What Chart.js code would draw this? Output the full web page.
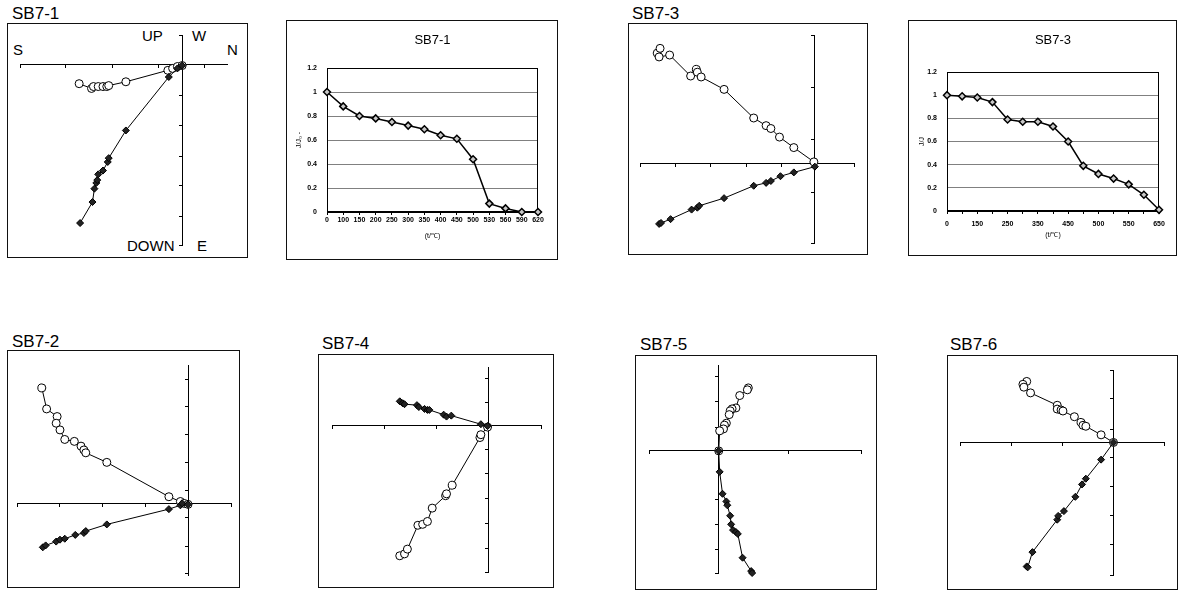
<!DOCTYPE html>
<html>
<head>
<meta charset="utf-8">
<script src="https://cdn.jsdelivr.net/npm/chart.js@4.4.0/dist/chart.umd.min.js"></script>
<style>
  body { margin: 0; background: #fff; width: 1179px; height: 592px; position: relative; overflow: hidden;
         font-family: 'Liberation Sans', Arial, sans-serif; color: #000; }
  .box { position: absolute; border: 1px solid #111; box-sizing: border-box; }
  .lbl { position: absolute; font-size: 15px; line-height: 1; white-space: nowrap; }
  .name { position: absolute; font-family: 'Liberation Sans Narrow', 'Liberation Sans', sans-serif;
          font-size: 17px; line-height: 1; white-space: nowrap; }
  canvas { position: absolute; }
</style>
</head>
<body>

<!-- frames -->
<div class="box" style="left:7px;top:23px;width:241px;height:235px"></div>
<div class="box" style="left:286px;top:20px;width:272px;height:240px"></div>
<div class="box" style="left:628px;top:23px;width:240px;height:232px"></div>
<div class="box" style="left:908px;top:20px;width:269px;height:236px"></div>
<div class="box" style="left:7px;top:350px;width:233px;height:238px"></div>
<div class="box" style="left:318px;top:354px;width:236px;height:234px"></div>
<div class="box" style="left:635px;top:355px;width:242px;height:235px"></div>
<div class="box" style="left:947px;top:355px;width:231px;height:235px"></div>

<!-- sample names -->
<div class="name" style="left:12px;top:5px">SB7-1</div>
<div class="name" style="left:632px;top:5px">SB7-3</div>
<div class="name" style="left:12px;top:333px">SB7-2</div>
<div class="name" style="left:322px;top:335px">SB7-4</div>
<div class="name" style="left:640px;top:336px">SB7-5</div>
<div class="name" style="left:950px;top:336px">SB7-6</div>

<!-- direction labels of SB7-1 -->
<div class="lbl" style="left:142px;top:28px">UP</div>
<div class="lbl" style="left:192px;top:28px">W</div>
<div class="lbl" style="left:13px;top:42px">S</div>
<div class="lbl" style="left:227px;top:42px">N</div>
<div class="lbl" style="left:127px;top:238px">DOWN</div>
<div class="lbl" style="left:197px;top:238px">E</div>

<canvas id="z1" width="217" height="220" style="left:15px;top:30px"></canvas>
<canvas id="d1" width="272" height="240" style="left:286px;top:20px"></canvas>
<canvas id="z3" width="224" height="218" style="left:635px;top:30px"></canvas>
<canvas id="d3" width="269" height="236" style="left:908px;top:20px"></canvas>
<canvas id="z2" width="224" height="220" style="left:12px;top:360px"></canvas>
<canvas id="z4" width="219" height="215" style="left:327px;top:362px"></canvas>
<canvas id="z5" width="222" height="218" style="left:644px;top:360px"></canvas>
<canvas id="z6" width="214" height="215" style="left:955px;top:365px"></canvas>

<script>
// Zijderveld points [horizontal, vertical], arbitrary intensity units
const sb71Open = [[-10.8, -2.0], [-9.5, -2.5], [-9.3, -2.3], [-8.8, -2.3], [-8.3, -2.3], [-7.9, -2.3], [-7.7, -2.2], [-5.9, -1.8], [-1.5, -0.6], [-1.0, -0.4], [-0.5, -0.2], [0, -0.1]];
const sb71Filled = [[-10.7, -16.6], [-9.4, -14.4], [-9.2, -13.0], [-9.0, -12.4], [-8.9, -12.1], [-8.8, -11.5], [-8.3, -11.1], [-7.8, -10.2], [-7.7, -9.8], [-5.9, -6.9], [-1.4, -1.3], [-0.5, -0.4], [0, -0.1]];
const sb71XTicks = [-17.0, -12.2, -7.3, -2.5, 2.3];
const sb71YTicks = [3.1, -3.2, -6.4, -9.6, -12.7, -15.9, -18.9];

const sb73Open = [[-16.5, 11.6], [-16.2, 12.1], [-16.3, 11.2], [-15.2, 11.4], [-13.0, 9.2], [-12.4, 9.9], [-12.3, 9.6], [-11.9, 9.1], [-9.5, 7.8], [-6.4, 4.8], [-5.1, 4.0], [-4.6, 3.7], [-3.7, 2.8], [-2.2, 1.7], [-0.1, 0.2]];
const sb73Filled = [[-16.3, -6.3], [-16.1, -6.2], [-15.1, -5.8], [-12.9, -4.8], [-12.3, -4.6], [-12.1, -4.4], [-9.5, -3.6], [-6.4, -2.3], [-5.1, -2.0], [-4.6, -1.8], [-3.6, -1.3], [-2.2, -0.9], [0, -0.3]];
const sb73XTicks = [-18.3, -14.6, -10.9, -7.2, -3.5, 4.1];
const sb73YTicks = [13.5, 8.0, 2.5, -3.0, -8.3];

const sb72Open = [[-15.4, 12.1], [-14.9, 9.9], [-13.8, 9.1], [-13.9, 8.4], [-13.5, 7.7], [-13.0, 6.7], [-12.0, 6.5], [-11.3, 6.0], [-11.0, 5.6], [-10.8, 5.3], [-8.6, 4.3], [-2.1, 0.7], [-0.9, 0.2], [-0.5, 0], [-0.1, -0.1]];
const sb72Filled = [[-15.3, -4.6], [-15.0, -4.4], [-13.9, -4.0], [-13.5, -3.8], [-13.0, -3.7], [-11.9, -3.3], [-11.0, -3.1], [-10.8, -2.9], [-8.6, -2.2], [-2.1, -0.6], [-0.9, -0.2], [-0.7, 0], [-0.1, -0.1]];
const sb72XTicks = [-18.0, -13.5, -9.0, -4.5, 4.4];
const sb72YTicks = [13.0, 10.1, 7.2, 4.3, 1.4, -1.5, -4.5, -7.3];

const sb74Open = [[-9.3, -13.7], [-8.8, -13.5], [-8.5, -13.0], [-7.4, -10.5], [-6.9, -10.4], [-6.4, -10.1], [-5.9, -8.7], [-4.5, -7.4], [-4.4, -7.2], [-3.8, -6.3], [-0.9, -1.3], [-0.8, -1.0], [-0.1, -0.2]];
const sb74Filled = [[-9.3, 2.5], [-9.0, 2.3], [-8.8, 2.2], [-7.5, 2.1], [-7.3, 1.9], [-6.7, 1.7], [-6.4, 1.6], [-6.2, 1.6], [-4.7, 1.1], [-4.4, 0.9], [-3.9, 1.0], [-0.8, 0.1], [-0.1, -0.1]];
const sb74XTicks = [-16.4, -10.9, -5.4, 5.5];
const sb74YTicks = [4.9, 2.4, -2.5, -5.1, -7.7, -10.3, -12.9, -15.4];

const sb75Open = [[3.1, 6.6], [3.0, 6.4], [2.2, 5.8], [1.8, 4.5], [1.4, 4.4], [1.2, 4.2], [1.1, 3.8], [0.8, 2.9], [0.6, 2.7], [0.5, 2.3], [0.1, 2.1], [0, 0]];
const sb75Filled = [[0, 0], [0.1, -2.2], [0.4, -4.5], [0.8, -5.3], [0.9, -5.7], [1.2, -6.8], [1.3, -7.7], [1.5, -8.3], [1.8, -8.5], [2.0, -8.7], [2.5, -11.2], [3.4, -12.6], [3.5, -12.8]];
const sb75XTicks = [-7.3, 7.3, 14.9];
const sb75YTicks = [7.8, 5.2, 2.5, -5.1, -7.7, -10.3, -12.8];

const sb76Open = [[-9.1, 6.4], [-9.5, 6.1], [-9.4, 5.8], [-8.7, 5.2], [-5.9, 3.9], [-5.9, 3.5], [-5.5, 3.4], [-5.3, 3.3], [-4.1, 2.7], [-3.4, 2.1], [-3.2, 1.8], [-2.9, 1.7], [-1.3, 0.8], [0, 0]];
const sb76Filled = [[-9.1, -13.0], [-9.0, -13.1], [-8.5, -11.5], [-5.9, -8.1], [-5.8, -7.7], [-5.2, -7.2], [-4.0, -5.7], [-3.3, -4.4], [-2.9, -3.8], [-1.3, -1.8], [0, 0]];
const sb76XTicks = [-16.1, -10.7, -5.3, 5.3];
const sb76YTicks = [7.6, 4.6, 1.4, -1.6, -4.6, -7.7, -10.7, -13.9];

// thermal demagnetization curves
const sb71Temps = ['0', '100', '150', '200', '250', '300', '350', '400', '450', '500', '530', '560', '590', '620'];
const sb71Ratio = [1.0, 0.88, 0.80, 0.78, 0.75, 0.72, 0.69, 0.64, 0.61, 0.44, 0.07, 0.03, 0.0, 0.0];
const sb73Temps = ['0', '100', '150', '200', '250', '300', '350', '400', '450', '475', '500', '525', '550', '600', '650'];
const sb73Ratio = [1.0, 0.99, 0.98, 0.94, 0.79, 0.77, 0.77, 0.73, 0.60, 0.39, 0.32, 0.28, 0.23, 0.14, 0.01];

const FONT = "'Liberation Sans', Arial, sans-serif";

function zijderveld(id, open, filled, xMin, xMax, yMin, yMax, xTicks, yTicks) {
  const pts = arr => arr.map(([x, y]) => ({ x, y }));
  const axis = (ticks, pos) => ({
    type: 'linear',
    position: pos,
    grid: { drawOnChartArea: false, tickLength: 3, color: '#000' },
    border: { color: '#000', width: 1 },
    ticks: { display: false },
    afterBuildTicks: s => { s.ticks = ticks.map(v => ({ value: v })); }
  });
  new Chart(document.getElementById(id), {
    type: 'scatter',
    data: {
      datasets: [
        { data: pts(filled), showLine: true, borderColor: '#000', borderWidth: 1, clip: false,
          pointStyle: 'rectRot', pointRadius: 3.5, pointBackgroundColor: '#222', pointBorderColor: '#000' },
        { data: pts(open), showLine: true, borderColor: '#000', borderWidth: 1, clip: false,
          pointStyle: 'circle', pointRadius: 4, pointBackgroundColor: '#fff', pointBorderColor: '#000' }
      ]
    },
    options: {
      responsive: false,
      animation: false,
      plugins: { legend: { display: false }, tooltip: { enabled: false } },
      scales: {
        x: { ...axis(xTicks, { y: 0 }), min: xMin, max: xMax },
        y: { ...axis(yTicks, { x: 0 }), min: yMin, max: yMax }
      }
    }
  });
}

// black frame round the plot area, like the spreadsheet charts
const plotFrame = {
  id: 'plotFrame',
  beforeDatasetsDraw(chart) {
    const { ctx, chartArea: a } = chart;
    ctx.save();
    ctx.strokeStyle = '#000';
    ctx.lineWidth = 1;
    ctx.strokeRect(Math.round(a.left) + 0.5, Math.round(a.top) + 0.5, Math.round(a.width) - 1, Math.round(a.height) - 1);
    ctx.restore();
  }
};

function demag(id, title, yTitle, temps, ratio, g) {
  new Chart(document.getElementById(id), {
    type: 'line',
    data: {
      labels: temps,
      datasets: [{
        data: ratio, borderColor: '#000', borderWidth: 1.5, tension: 0, clip: false,
        pointStyle: 'rectRot', pointRadius: 3.5, pointBackgroundColor: '#c8c8c8', pointBorderColor: '#000'
      }]
    },
    options: {
      responsive: false,
      animation: false,
      layout: { padding: { right: g.padRight } },
      plugins: {
        legend: { display: false },
        tooltip: { enabled: false },
        title: { display: true, text: title, color: '#000', fullSize: false,
                 font: { family: FONT, size: 13, weight: 'normal' },
                 padding: { top: 13, bottom: g.titleBottom } }
      },
      scales: {
        x: {
          grid: { drawOnChartArea: false, tickLength: 3, color: '#000' },
          border: { color: '#000' },
          ticks: { autoSkip: false, maxRotation: 0, padding: g.xTickPad, color: '#000',
                   font: { family: FONT, size: 7, weight: 'bold' },
                   callback: (v, i) => (i % g.every === 0 ? temps[i] : '') },
          title: { display: true, text: '(t/℃)', color: '#000', font: { family: FONT, size: 7 },
                   padding: { top: 0, bottom: g.xTitlePad } },
          afterFit: s => { s.height = g.axisH; }
        },
        y: {
          min: 0, max: 1.2,
          grid: { color: '#808080', drawTicks: false },
          border: { color: '#000' },
          ticks: { stepSize: 0.2, padding: 10, color: '#000',
                   font: { family: FONT, size: 7, weight: 'bold' },
                   callback: v => String(+v.toFixed(1)) },
          title: { display: true, text: yTitle, color: '#000', font: { family: FONT, size: 7 },
                   padding: { top: g.yTitlePad, bottom: 0 } },
          afterFit: s => { s.width = g.axisW; }
        }
      }
    },
    plugins: [plotFrame]
  });
}

zijderveld('z1', sb71Open, sb71Filled, -17.0, 4.7, -18.9, 3.1, sb71XTicks, sb71YTicks);
zijderveld('z3', sb73Open, sb73Filled, -18.3, 4.1, -8.3, 13.5, sb73XTicks, sb73YTicks);
zijderveld('z2', sb72Open, sb72Filled, -18.0, 4.4, -7.5, 14.5, sb72XTicks, sb72YTicks);
zijderveld('z4', sb74Open, sb74Filled, -16.4, 5.5, -15.4, 6.1, sb74XTicks, sb74YTicks);
zijderveld('z5', sb75Open, sb75Filled, -7.3, 14.9, -12.8, 9.0, sb75XTicks, sb75YTicks);
zijderveld('z6', sb76Open, sb76Filled, -16.1, 5.3, -13.9, 7.6, sb76XTicks, sb76YTicks);

demag('d1', 'SB7-1', 'J/J₀ -', sb71Temps, sb71Ratio,
      { padRight: 20, titleBottom: 19.4, axisH: 48, axisW: 41, xTickPad: 1, xTitlePad: 20, yTitlePad: 9, every: 1 });
demag('d3', 'SB7-3', 'J/J', sb73Temps, sb73Ratio,
      { padRight: 18, titleBottom: 23.4, axisH: 45, axisW: 39, xTickPad: 6, xTitlePad: 17, yTitlePad: 10, every: 2 });
</script>
</body>
</html>
